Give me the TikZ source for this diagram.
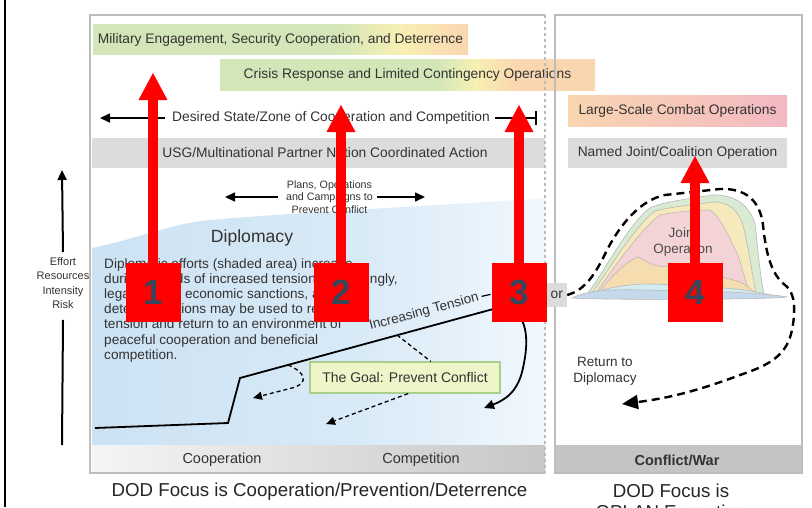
\documentclass[tikz,border=0pt]{standalone}
\usepackage{fontspec}
\setmainfont{Liberation Sans}
\usetikzlibrary{arrows.meta}

\definecolor{panelgray}{HTML}{BDBDBD}
\definecolor{bandgray}{HTML}{DCDCDC}
\definecolor{bandgreen}{HTML}{D3E6B8}
\definecolor{bandyellow}{HTML}{F8F0B4}
\definecolor{bandpeach}{HTML}{F9D5B0}
\definecolor{bandpink}{HTML}{F3B9C3}
\definecolor{skyleft}{HTML}{CCE2F3}
\definecolor{skymid}{HTML}{D9EAF7}
\definecolor{skyright}{HTML}{F1F8FD}
\definecolor{goalfill}{HTML}{EEF5C8}
\definecolor{goalline}{HTML}{A8D08C}
\definecolor{arrowred}{HTML}{FF0000}
\definecolor{numcol}{HTML}{37465A}
\definecolor{txt}{HTML}{333333}
\definecolor{mtgreen}{HTML}{D9EBD3}
\definecolor{mtyellow}{HTML}{F6E9BC}
\definecolor{mtpink}{HTML}{F4D3D6}
\definecolor{mtorange}{HTML}{F5DDB0}
\definecolor{mtcyan}{HTML}{D2ECF0}
\definecolor{mtblue}{HTML}{C6D9EC}
\definecolor{mtline}{HTML}{B8B8B8}

\pgfdeclarehorizontalshading{engageshade}{100bp}{color(0bp)=(bandgreen); color(57bp)=(bandgreen); color(66bp)=(bandyellow); color(75bp)=(bandpeach); color(100bp)=(bandpeach)}
\pgfdeclarehorizontalshading{crisisshade}{100bp}{color(0bp)=(bandgreen); color(54bp)=(bandgreen); color(59bp)=(bandyellow); color(65bp)=(bandpeach); color(100bp)=(bandpeach)}
\pgfdeclarehorizontalshading{combatshade}{100bp}{color(0bp)=(bandpeach); color(25bp)=(bandpeach); color(75bp)=(bandpink); color(100bp)=(bandpink)}
\pgfdeclarehorizontalshading{skyshade}{100bp}{color(0bp)=(skyleft); color(25bp)=(skyleft); color(55bp)=(skymid); color(75bp)=(skyright); color(100bp)=(skyright)}

\begin{document}
\begin{tikzpicture}[x=1pt, y=-1pt, >={Triangle[width=9pt,length=10pt]},
  lbl/.style={font=\fontsize{13.8}{16}\selectfont, text=txt, inner sep=0pt},
  band/.style={minimum height=30pt, inner sep=0pt, font=\fontsize{13.8}{16}\selectfont, text=txt},
  numbox/.style={fill=arrowred, minimum width=55pt, minimum height=59pt, inner sep=0pt, font=\fontsize{35}{40}\selectfont\bfseries, text=numcol},
  redarrow/.style={draw=arrowred, line width=10pt, -{Triangle[width=29pt,length=27pt,line width=0pt]}},
  tdash/.style={line width=1.3pt, dash pattern=on 4pt off 3pt, -{Triangle[width=8pt,length=9pt]}},
  mtn/.style={draw=mtline, line width=0.6pt}]
\useasboundingbox (0,0) rectangle (812,507);
% frame line
\draw[line width=2pt] (5,0) -- (5,507);

% panels
\shade[shading=skyshade] (92,248) .. controls (140,238) and (170,224) .. (210,220)
  .. controls (300,212) and (450,205) .. (545,198) -- (545,445) -- (92,445) -- cycle;
\shade[left color=white!96!black, right color=black!22] (92,445) rectangle (545,473);
\fill[black!23] (555,445) rectangle (802,473);

% bands
\node[band, shade, shading=engageshade, minimum width=375pt] (engage) at (280.5,39.5) {Military Engagement, Security Cooperation, and Deterrence};
\node[band, shade, shading=crisisshade, minimum width=375pt, minimum height=31pt] (crisis) at (407.5,75) {Crisis Response and Limited Contingency Operations};
\node[band, shade, shading=combatshade, minimum width=219pt, minimum height=31pt] (combat) at (677.5,111) {Large-Scale Combat Operations};
\node[band, fill=bandgray, minimum width=453pt] (usg) at (318.5,153) {};
\node[lbl] (usgtext) at (325,153) {USG/Multinational Partner Nation Coordinated Action};
\node[band, fill=bandgray, minimum width=219pt] (named) at (677.5,153) {Named Joint/Coalition Operation};

\draw[panelgray, line width=1.5pt] (545,15) -- (90,15) -- (90,473) -- (545,473);
\draw[panelgray, line width=1.2pt, dashed] (545,15) -- (545,473);
\draw[panelgray, line width=1.5pt] (555,15) rectangle (802,473);

% zone of cooperation
\node[lbl] (zone) at (331,118) {Desired State/Zone of Cooperation and Competition};
\coordinate (zoneL) at (100,118);
\coordinate (zoneR) at (537,118);
\draw[->, line width=1.6pt] ([xshift=-7pt]zone.west) -- (zoneL);
\draw[-{Bar[width=14pt]}, line width=1.6pt] ([xshift=5pt]zone.east) -- (zoneR);

% plans
\node[font=\fontsize{10.7}{12.7}\selectfont, text=txt, align=center, inner sep=0pt] (plans) at (329.5,197) {Plans, Operations\\and Campaigns to\\Prevent Conflict};
\coordinate (plansL) at (225,197);
\coordinate (plansR) at (425,197);
\draw[->, line width=1.6pt] ([xshift=-8pt]plans.west) -- (plansL);
\draw[->, line width=1.6pt] ([xshift=4pt]plans.east) -- (plansR);

% effort axis
\node[font=\fontsize{11}{14.5}\selectfont, text=txt, align=center, inner sep=0pt] (effort) at (63,283) {Effort\\Resources\\Intensity\\Risk};
\coordinate (effortTop) at (62,170);
\coordinate (effortBot) at (62,445);
\draw[->, line width=2pt] ([yshift=5pt]effort.north) -- (effortTop);
\draw[line width=2pt] ([yshift=-11pt]effort.south) -- (effortBot);

% diplomacy
\node[font=\fontsize{17.6}{20}\selectfont, text=txt, inner sep=0pt] (diplo) at (252,238) {Diplomacy};
\node[font=\fontsize{13.6}{15.2}\selectfont, text=txt, align=left, anchor=north west, inner sep=0pt] (dipltext) at (104,258)
  {Diplomatic efforts (shaded area) increase\\during periods of increased tension. Accordingly,\\legal means, economic sanctions, and other\\deterrent options may be used to reduce\\tension and return to an environment of\\peaceful cooperation and beneficial\\competition.};

% increasing tension
\draw[->, line width=1.8pt] (95,428) -- (228,423) -- (240,378) -- (508,305)
  .. controls (530,318) and (528,345) .. (523,368) .. controls (518,392) and (505,400) .. (484,408);
\node[lbl, rotate=15, font=\fontsize{13.5}{16}\selectfont] (tension) at (424,312) {Increasing Tension};
\draw[line width=1.2pt] (tension.east) ++(3,-1) -- ++(9,-2);

% goal
\node[draw=goalline, fill=goalfill, line width=1.2pt, minimum width=190pt, minimum height=31pt, font=\fontsize{14}{16}\selectfont, text=txt] (goal) at (405,377.5) {The Goal: Prevent Conflict};
\coordinate (goalout1) at (253,398);
\coordinate (goalout2) at (326,424);
\draw[tdash] (288,365) .. controls (305,372) and (310,383) .. (292,388) -- (goalout1);
\draw[tdash, -] (397,335) -- (goal.32);
\draw[tdash] (goal.-79) -- (goalout2);

% gray label
\node[fill=bandgray, minimum width=70pt, minimum height=24pt, inner sep=4pt, text width=62pt, align=right, font=\fontsize{13.8}{16}\selectfont, text=txt] (orbox) at (532,295) {or};

% joint operation
\filldraw[mtn, fill=mtgreen] (588,293) .. controls (605,270) and (630,222) .. (650,208) .. controls (665,201) and (690,199) .. (712,195)
  .. controls (735,194) and (750,206) .. (755,224) .. controls (758,250) and (760,275) .. (764,294) -- cycle;
\filldraw[mtn, fill=mtyellow] (592,293) .. controls (610,268) and (635,226) .. (655,211) .. controls (675,206) and (700,204) .. (712,202)
  .. controls (728,201) and (738,210) .. (743,225) .. controls (748,245) and (752,272) .. (756,294) -- cycle;
\filldraw[mtn, fill=mtpink] (596,293) .. controls (612,270) and (640,230) .. (660,215) .. controls (680,211) and (700,210) .. (710,210)
  .. controls (722,218) and (730,240) .. (738,255) .. controls (742,268) and (745,280) .. (750,294) -- cycle;
\filldraw[mtn, fill=mtorange] (598,293) .. controls (610,278) and (625,262) .. (638,257) .. controls (648,262) and (655,268) .. (668,266)
  .. controls (690,268) and (720,276) .. (740,282) .. controls (748,286) and (752,290) .. (756,294) -- cycle;
\filldraw[mtn, fill=mtcyan] (585,295) .. controls (610,286) and (640,282) .. (670,285) .. controls (710,287) and (745,288) .. (770,295) -- cycle;
\filldraw[mtn, fill=mtblue] (572,298) .. controls (585,291) and (610,289) .. (640,290) .. controls (700,291) and (760,292) .. (787,297)
  .. controls (760,300) and (600,300) .. (572,298) -- cycle;
\node[font=\fontsize{13.5}{16.5}\selectfont, text=black!70, align=center, inner sep=0pt] (jointop) at (683,242) {Joint\\Operation};

% return to diplomacy
\coordinate (backtip) at (622,404);
\draw[line width=2.4pt, dash pattern=on 8pt off 5pt, -{Triangle[width=14pt,length=16pt]}] (orbox.east)
  .. controls (585,290) and (595,275) .. (607,250) .. controls (620,225) and (640,200) .. (665,195) -- (720,189)
  .. controls (745,188) and (760,200) .. (763,225) .. controls (766,255) and (772,275) .. (785,285)
  .. controls (795,292) and (796,310) .. (792,330) .. controls (787,355) and (770,365) .. (740,375)
  .. controls (700,390) and (670,398) .. (backtip);
\node[lbl, align=center, font=\fontsize{13.5}{16}\selectfont] (ret) at (605,371) {Return to\\Diplomacy};

% bottom
\node[lbl, font=\fontsize{14.5}{16}\selectfont] (coop) at (222,460) {Cooperation};
\node[lbl, font=\fontsize{14.5}{16}\selectfont] (comp) at (421,460) {Competition};
\node[lbl, font=\fontsize{14.5}{16}\selectfont\bfseries] (war) at (677,460) {Conflict/War};
\node[font=\fontsize{18.7}{21}\selectfont, text=black!85, inner sep=0pt] (focusL) at (319.5,492) {DOD Focus is Cooperation/Prevention/Deterrence};
\node[font=\fontsize{18.7}{21}\selectfont, text=black!85, inner sep=0pt, align=center, anchor=north] (focusR) at (671,484) {DOD Focus is\\OPLAN Execution};

% numbered markers
\node[numbox] (box1) at (153,292.5) {1};
\coordinate (tip1) at (153,73);
\draw[redarrow] (box1.north) -- (tip1);
\node[numbox] (box2) at (341,292.5) {2};
\coordinate (tip2) at (341,105);
\draw[redarrow] (box2.north) -- (tip2);
\node[numbox] (box3) at (519,292.5) {3};
\coordinate (tip3) at (519,105);
\draw[redarrow] (box3.north) -- (tip3);
\node[numbox] (box4) at (695,292.5) {4};
\coordinate (tip4) at (695,156);
\draw[redarrow] (box4.north) -- (tip4);
\end{tikzpicture}
\end{document}
